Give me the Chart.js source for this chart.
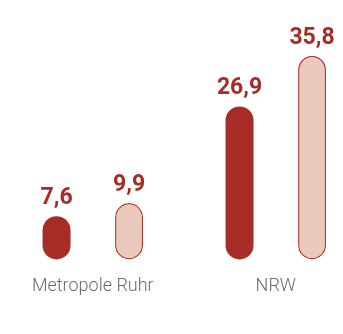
<!DOCTYPE html>
<html>
<head>
<meta charset="utf-8">
<script src="https://cdn.jsdelivr.net/npm/chart.js@4/dist/chart.umd.min.js"></script>
<style>
    body { margin: 0; background: #ffffff; }
    #wrap { width: 343px; height: 334px; position: relative; }
</style>
</head>
<body>
<div id="wrap"><canvas id="chart"></canvas></div>
<script>
const regions = ['Metropole Ruhr', 'NRW'];
const seriesA = [7.6, 26.9];
const seriesB = [9.9, 35.8];

const darkRed = '#a72c26';
const lightPink = '#e8c9bc';

// prints the value above each bar, German decimal comma
const valueLabels = {
    id: 'valueLabels',
    afterDatasetsDraw(chart) {
        const ctx = chart.ctx;
        ctx.save();
        ctx.font = 'bold 23px Roboto';
        ctx.fillStyle = darkRed;
        ctx.textAlign = 'center';
        ctx.textBaseline = 'alphabetic';
        chart.data.datasets.forEach((ds, i) => {
            chart.getDatasetMeta(i).data.forEach((bar, j) => {
                const txt = ds.data[j].toFixed(1).replace('.', ',');
                ctx.fillText(txt, bar.x, bar.y - 12);
            });
        });
        ctx.restore();
    }
};

document.addEventListener("DOMContentLoaded", function () {
    const ctx = document.getElementById('chart').getContext('2d');
    new Chart(ctx, {
        type: 'bar',
        data: {
            labels: regions,
            datasets: [{
                data: seriesA,
                backgroundColor: darkRed,
                borderColor: darkRed,
                borderWidth: 0,
                borderRadius: 20,
                borderSkipped: false,
                clip: false
            }, {
                data: seriesB,
                backgroundColor: lightPink,
                borderColor: '#b5392f',
                borderWidth: 1.5,
                borderRadius: 20,
                borderSkipped: false,
                clip: false
            }]
        },
        options: {
            responsive: true,
            maintainAspectRatio: false,
            animation: false,
            layout: {
                padding: { left: 92.8, right: 67.2, top: 0, bottom: 29 }
            },
            datasets: {
                bar: { categoryPercentage: 0.7923, barPercentage: 0.386 }
            },
            plugins: {
                legend: { display: false },
                tooltip: { enabled: false }
            },
            scales: {
                x: {
                    offset: false,
                    grid: { display: false },
                    border: { display: false },
                    ticks: {
                        color: '#6b6b6b',
                        padding: 8,
                        font: { family: 'Roboto', size: 18, weight: 300 }
                    }
                },
                y: {
                    display: false,
                    min: 0,
                    max: 45.6
                }
            }
        },
        plugins: [valueLabels]
    });
});
</script>
</body>
</html>
